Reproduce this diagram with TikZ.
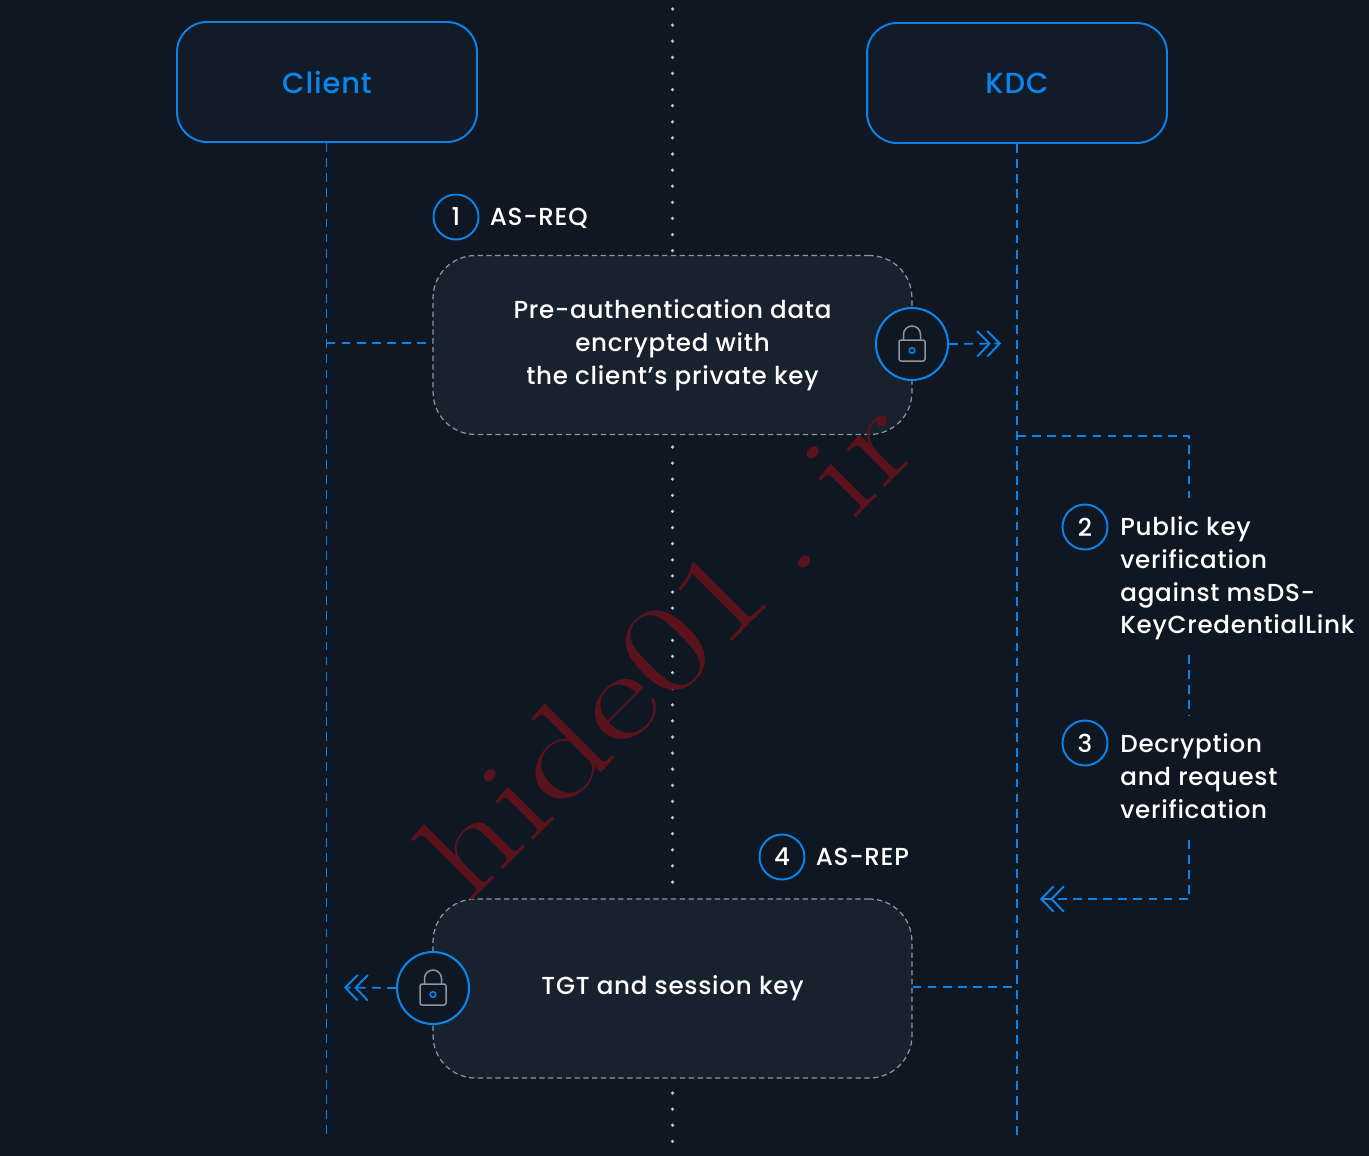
\documentclass[tikz,border=0pt]{standalone}
\usepackage{fontspec}
\setmainfont{Poppins}[UprightFont=* Medium, LetterSpace=3]
\newfontfamily\wmfont{Latin Modern Roman}[WordSpace=0.5]
\usetikzlibrary{positioning,arrows.meta}
\definecolor{bgdark}{HTML}{0F1722}
\definecolor{hostfill}{HTML}{121C29}
\definecolor{msgfill}{HTML}{18222F}
\definecolor{lineblue}{HTML}{0A84E8}
\definecolor{titleblue}{HTML}{0A86EE}
\definecolor{boxgrey}{HTML}{8D96A3}
\definecolor{dotgrey}{HTML}{BFC8D6}
\definecolor{markred}{HTML}{5A131C}
\tikzset{
  hostbox/.style={draw=lineblue, fill=hostfill, line width=1.1pt, rounded corners=0.6cm,
    minimum width=6cm, minimum height=2.4cm, text=titleblue, font=\fontsize{16.5}{20}\selectfont},
  msgbox/.style={draw=boxgrey, fill=msgfill, line width=0.7pt, dash pattern=on 3pt off 2pt,
    rounded corners=0.85cm, minimum width=9.58cm, minimum height=3.58cm, text=white, align=center,
    font=\fontsize{14}{18.7}\selectfont},
  wire/.style={draw=lineblue, line width=0.95pt, dash pattern=on 5pt off 3.6pt},
  wirehead/.style={wire, -{Straight Barb[length=7pt,width=14.5pt,line width=1.1pt,sep=-2.5pt]Straight Barb[length=7pt,width=14.5pt,line width=1.1pt]}},
  midline/.style={draw=dotgrey, line width=2pt, line cap=round, dash pattern=on 0pt off 9.17pt},
  numdot/.style={circle, draw=lineblue, fill=bgdark, line width=1.1pt, minimum size=0.9cm, inner sep=0pt,
    text=white, font=\fontsize{14}{18}\selectfont},
  steptext/.style={text=white, align=left, inner sep=0pt, font=\fontsize{14}{18.7}\selectfont},
  lockdot/.style={circle, draw=lineblue, fill=bgdark, line width=1.2pt, minimum size=1.44cm, inner sep=0pt},
  lockicon/.pic={
    \draw[boxgrey, line width=0.85pt, rounded corners=1.2pt] (-13,-4) rectangle (13,17);
    \draw[boxgrey, line width=0.85pt] (-8.5,-4) -- (-8.5,-9.5) arc[start angle=180, end angle=360, radius=8.5] -- (8.5,-4);
    \draw[lineblue, line width=0.85pt] (0,6.5) circle (2.8);
  },
}
\begin{document}
\begin{tikzpicture}[x=0.02cm, y=-0.02cm]
  \useasboundingbox (0,0) rectangle (1369,1156);
  \fill[bgdark] (0,0) rectangle (1369,1156);

  % the two hosts
  \node[hostbox] (client) at (327,82) {Client};
  \node[hostbox] (kdc) at (1017,83) {KDC};

  % dots down the middle
  \coordinate (midtop) at (672.5,9);
  \coordinate (midupper) at (672.5,253);
  \coordinate (midlower) at (672.5,447);
  \coordinate (midend) at (672.5,888);
  \coordinate (midtail) at (672.5,1093);
  \coordinate (midfoot) at (672.5,1146);
  \draw[midline] (midtop) -- (midupper);
  \draw[midline] (midlower) -- (midend);
  \draw[midline] (midtail) -- (midfoot);

  % lifelines
  \coordinate (clientfoot) at (326.5,1138);
  \coordinate (kdcfoot) at (1017,1138);
  \draw[wire] (client.south -| clientfoot) -- (clientfoot);
  \draw[wire] (kdc.south) -- (kdcfoot);

  % request
  \node[msgbox] (asreq) at (672.5,345) {Pre-authentication data\\encrypted with\\the client{\char"27}s private key};
  \coordinate (clienttap) at (326.5,343);
  \draw[wire] (clienttap) -- (asreq.west |- clienttap);
  \node[lockdot] (reqlock) at (912,344) {};
  \pic at (reqlock.center) {lockicon};
  \coordinate (reqtip) at (1001,343.5);
  \draw[wirehead] (reqlock.east) -- (reqtip);
  \node[numdot] (numone) at (456,217) {1};
  \node[steptext, right=0.2cm of numone, yshift=-1pt] (reqtext) {AS-REQ};

  % kdc side loop
  \coordinate (loopstart) at (1017,436);
  \coordinate (loopcorner) at (1189,436);
  \coordinate (loopa) at (1189,498);
  \coordinate (loopb) at (1189,655);
  \coordinate (loopc) at (1189,716);
  \coordinate (loopd) at (1189,840);
  \coordinate (loopturn) at (1189,899);
  \coordinate (looptip) at (1040,899);
  \draw[wire] (loopstart) -- (loopcorner) -- (loopa);
  \draw[wire] (loopb) -- (loopc);
  \draw[wirehead] (loopd) -- (loopturn) -- (looptip);
  \node[numdot] (numtwo) at (1085,527) {2};
  \node[steptext, anchor=north west] (verifytext) at (1120,516) {Public key\\verification\\against msDS-\\KeyCredentialLink};
  \node[numdot] (numthree) at (1085,743) {3};
  \node[steptext, anchor=north west] (decrypttext) at (1120,733) {Decryption\\and request\\verification};

  % reply
  \node[msgbox] (asrep) at (672.5,988.5) {TGT and session key};
  \coordinate (kdctap) at (1017,987);
  \draw[wire] (asrep.east |- kdctap) -- (kdctap);
  \node[lockdot] (replock) at (433,988) {};
  \pic at (replock.center) {lockicon};
  \coordinate (reptip) at (344,987.5);
  \draw[wirehead] (replock.west) -- (reptip);
  \node[numdot] (numfour) at (782,857) {4};
  \node[steptext, right=0.2cm of numfour] (reptext) {AS-REP};

  % watermark
  \node[text=markred, rotate=45, xscale=1.32, font=\wmfont\fontsize{72}{72}\selectfont] (mark) at (666,647) {hide01 . ir};
\end{tikzpicture}
\end{document}
